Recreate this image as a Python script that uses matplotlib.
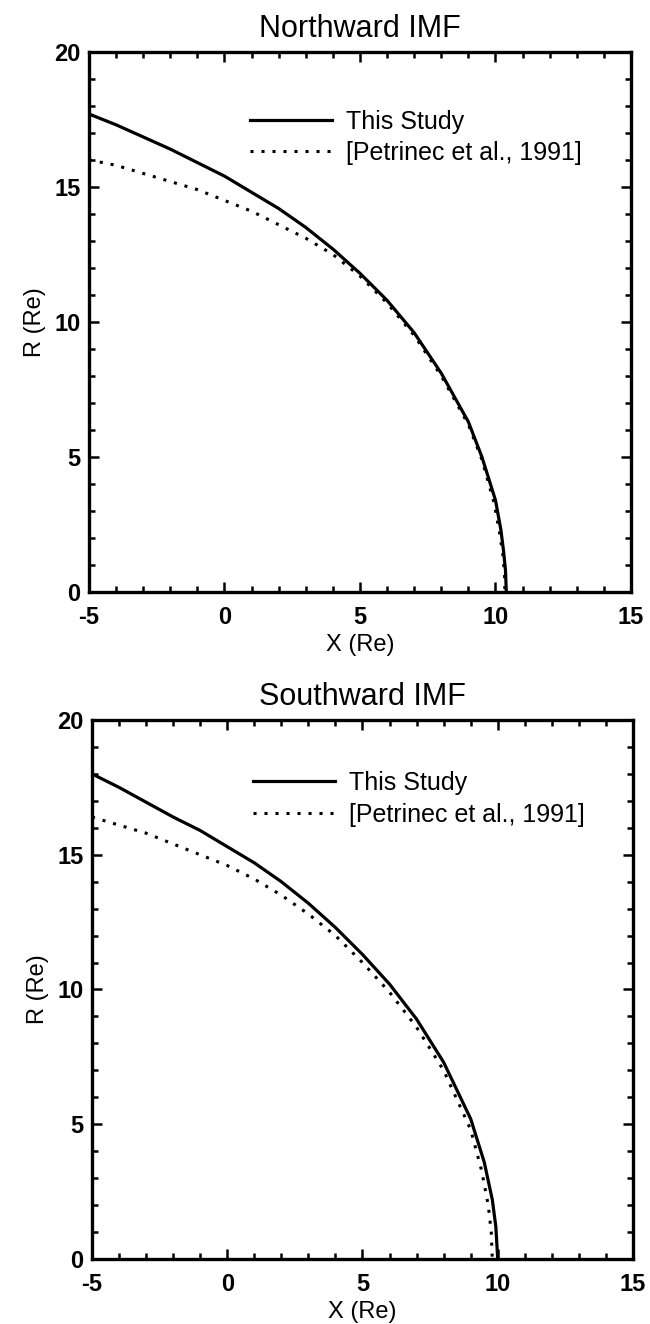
import numpy as np
import matplotlib.pyplot as plt
from matplotlib.ticker import MultipleLocator

plt.rcParams['font.family'] = ['Liberation Sans', 'DejaVu Sans']
plt.rcParams['axes.unicode_minus'] = False

# Northward IMF
north_study_x = [-5, -4, -3, -2, -1, 0, 1, 2, 3, 4, 5, 6, 7, 8, 9, 9.5, 10, 10.2, 10.3, 10.37, 10.4]
north_study_r = [17.7, 17.3, 16.85, 16.4, 15.9, 15.4, 14.8, 14.2, 13.5, 12.7, 11.8, 10.8, 9.6, 8.1, 6.3, 5.0, 3.4, 2.3, 1.5, 0.8, 0]
north_pet_x = [-5, -4, -3, -2, -1, 0, 1, 2, 3, 4, 5, 6, 7, 8, 9, 9.5, 9.95, 10.15, 10.27, 10.33, 10.35]
north_pet_r = [16.0, 15.8, 15.5, 15.2, 14.9, 14.5, 14.1, 13.6, 13.1, 12.5, 11.7, 10.7, 9.5, 8.0, 6.2, 4.9, 3.3, 2.2, 1.4, 0.7, 0]

# Southward IMF
south_study_x = [-5, -4, -3, -2, -1, 0, 1, 2, 3, 4, 5, 6, 7, 8, 9, 9.5, 9.8, 9.93, 10.0]
south_study_r = [18.0, 17.5, 16.95, 16.4, 15.9, 15.3, 14.7, 14.0, 13.2, 12.3, 11.3, 10.2, 8.9, 7.3, 5.2, 3.6, 2.2, 1.2, 0]
south_pet_x = [-5, -4, -3, -2, -1, 0, 1, 2, 3, 4, 5, 6, 7, 8, 9, 9.4, 9.65, 9.76, 9.8]
south_pet_r = [16.4, 16.1, 15.8, 15.4, 15.0, 14.6, 14.1, 13.5, 12.8, 12.0, 11.0, 9.9, 8.6, 7.0, 4.8, 3.3, 2.0, 1.0, 0]

labels = ['This Study', '[Petrinec et al., 1991]']
titles = ['Northward IMF', 'Southward IMF']
xticks = [-5, 0, 5, 10, 15]
yticks = [0, 5, 10, 15, 20]

fig = plt.figure(figsize=(6.5, 13.24), dpi=100)
ax1 = fig.add_axes([0.1369, 0.5529, 0.8338, 0.4079])
ax2 = fig.add_axes([0.1415, 0.0491, 0.8323, 0.4071])

panels = [
    (ax1, north_study_x, north_study_r, north_pet_x, north_pet_r, (0.297, 0.893)),
    (ax2, south_study_x, south_study_r, south_pet_x, south_pet_r, (0.297, 0.905)),
]

for i, (ax, sx, sr, px, pr, lpos) in enumerate(panels):
    ax.plot(sx, sr, color='black', lw=2.3, label=labels[0])
    ax.plot(px, pr, color='black', lw=2.2, linestyle=(0, (1, 2.6)), label=labels[1])
    ax.set_xlim(-5, 15)
    ax.set_ylim(0, 20)
    ax.set_xticks(xticks)
    ax.set_yticks(yticks)
    ax.xaxis.set_minor_locator(MultipleLocator(1))
    ax.yaxis.set_minor_locator(MultipleLocator(1))
    ax.tick_params(which='both', direction='in', top=True, right=True, width=1.8)
    ax.tick_params(which='major', length=7, labelsize=17)
    ax.tick_params(axis='x', which='major', pad=10)
    ax.tick_params(axis='y', which='major', pad=6)
    ax.tick_params(which='minor', length=4)
    for lab in ax.get_xticklabels() + ax.get_yticklabels():
        lab.set_fontweight('bold')
    for sp in ax.spines.values():
        sp.set_linewidth(2.4)
    ax.set_title(titles[i], fontsize=22, pad=11)
    ax.set_xlabel('X (Re)', fontsize=17, labelpad=4)
    ax.set_ylabel('R (Re)', fontsize=17, labelpad=6)
    ax.legend(loc='upper left', bbox_to_anchor=lpos, frameon=False, fontsize=18,
              handlelength=3.3, handletextpad=0.55, labelspacing=0.3,
              borderpad=0, borderaxespad=0)

fig.savefig('out.png', dpi=100)
